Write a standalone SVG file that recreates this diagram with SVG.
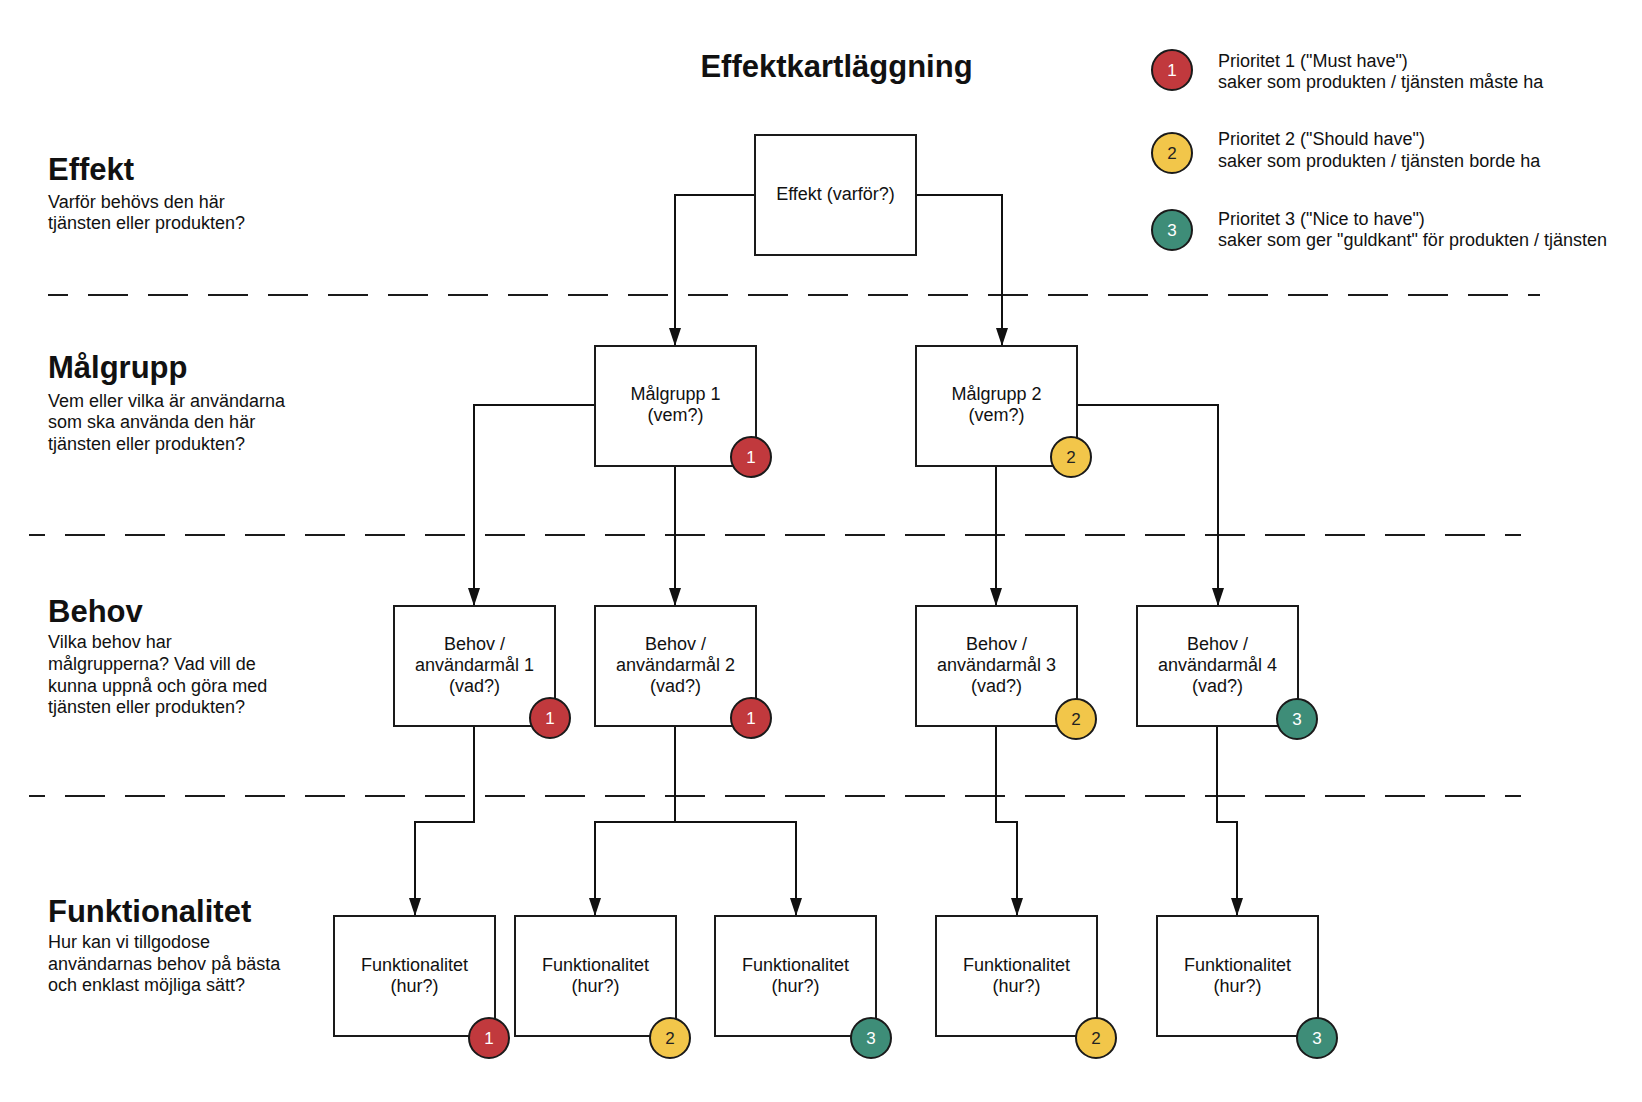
<svg xmlns="http://www.w3.org/2000/svg" width="1642" height="1102" viewBox="0 0 1642 1102">
<style>
text{font-family:"Liberation Sans",Arial,sans-serif;fill:#111}
.title{font-size:31px;font-weight:bold;text-anchor:middle}
.h{font-size:31px;font-weight:bold}
.d{font-size:18px}
.n{font-size:18px;text-anchor:middle}
.box{fill:#fff;stroke:#1a1a1a;stroke-width:2}
.dash{stroke:#1a1a1a;stroke-width:2;stroke-dasharray:40 20;fill:none}
.conn path{fill:none;stroke:#111;stroke-width:2;marker-end:url(#arr)}
.b1{fill:#c1393d;stroke:#1a1a1a;stroke-width:2}
.b2{fill:#f2c64a;stroke:#1a1a1a;stroke-width:2}
.b3{fill:#3e8d78;stroke:#1a1a1a;stroke-width:2}
.bt{font-size:17px;text-anchor:middle;fill:#fff}
.bt2{font-size:17px;text-anchor:middle;fill:#222}
</style>
<defs>
<marker id="arr" markerWidth="18" markerHeight="12" refX="17" refY="6" orient="auto" markerUnits="userSpaceOnUse" viewBox="0 0 18 12">
<path d="M0,0 L18,6 L0,12 Z" fill="#111"/>
</marker>
</defs>
<rect width="1642" height="1102" fill="#fff"/>

<text class="title" x="836.5" y="77">Effektkartläggning</text>

<g id="legend">
<circle class="b1" cx="1172" cy="70" r="20"/><text class="bt" x="1172" y="76">1</text>
<text class="d" x="1218" y="67">Prioritet 1 ("Must have")</text>
<text class="d" x="1218" y="88">saker som produkten / tjänsten måste ha</text>
<circle class="b2" cx="1172" cy="153" r="20"/><text class="bt2" x="1172" y="159">2</text>
<text class="d" x="1218" y="145">Prioritet 2 ("Should have")</text>
<text class="d" x="1218" y="167">saker som produkten / tjänsten borde ha</text>
<circle class="b3" cx="1172" cy="230" r="20"/><text class="bt" x="1172" y="236">3</text>
<text class="d" x="1218" y="225">Prioritet 3 ("Nice to have")</text>
<text class="d" x="1218" y="246">saker som ger "guldkant" för produkten / tjänsten</text>
</g>

<g id="labels">
<text class="h" x="48" y="180">Effekt</text>
<text class="d" x="48" y="208">Varför behövs den här</text>
<text class="d" x="48" y="229">tjänsten eller produkten?</text>
<text class="h" x="48" y="378">Målgrupp</text>
<text class="d" x="48" y="407">Vem eller vilka är användarna</text>
<text class="d" x="48" y="428">som ska använda den här</text>
<text class="d" x="48" y="450">tjänsten eller produkten?</text>
<text class="h" x="48" y="622">Behov</text>
<text class="d" x="48" y="648">Vilka behov har</text>
<text class="d" x="48" y="670">målgrupperna? Vad vill de</text>
<text class="d" x="48" y="692">kunna uppnå och göra med</text>
<text class="d" x="48" y="713">tjänsten eller produkten?</text>
<text class="h" x="48" y="922">Funktionalitet</text>
<text class="d" x="48" y="948">Hur kan vi tillgodose</text>
<text class="d" x="48" y="970">användarnas behov på bästa</text>
<text class="d" x="48" y="991">och enklast möjliga sätt?</text>
</g>

<g id="dividers">
<line class="dash" x1="48" y1="295" x2="1540" y2="295" stroke-dashoffset="20"/>
<line class="dash" x1="29" y1="535" x2="1521" y2="535" stroke-dashoffset="24"/>
<line class="dash" x1="29" y1="796" x2="1521" y2="796" stroke-dashoffset="24"/>
</g>

<g id="connectors" class="conn">
<path d="M755,195 H675 V345"/>
<path d="M916,195 H1002 V345"/>
<path d="M595,405 H474 V605"/>
<path d="M675,466 V605"/>
<path d="M996,466 V605"/>
<path d="M1077,405 H1218 V605"/>
<path d="M474,726 V822 H415 V915"/>
<path d="M675,726 V822 H595 V915"/>
<path d="M675,822 H796 V915"/>
<path d="M996,726 V822 H1017 V915"/>
<path d="M1217,726 V822 H1237 V915"/>
</g>

<g id="effekt">
<rect class="box" x="755" y="135" width="161" height="120"/>
<text class="n" x="835.5" y="200">Effekt (varför?)</text>
</g>

<g id="malgrupp1">
<rect class="box" x="595" y="346" width="161" height="120"/>
<text class="n" x="675.5" y="400">Målgrupp 1</text>
<text class="n" x="675.5" y="421">(vem?)</text>
<circle class="b1" cx="751" cy="457" r="20"/><text class="bt" x="751" y="463">1</text>
</g>

<g id="malgrupp2">
<rect class="box" x="916" y="346" width="161" height="120"/>
<text class="n" x="996.5" y="400">Målgrupp 2</text>
<text class="n" x="996.5" y="421">(vem?)</text>
<circle class="b2" cx="1071" cy="457" r="20"/><text class="bt2" x="1071" y="463">2</text>
</g>

<g id="behov1">
<rect class="box" x="394" y="606" width="161" height="120"/>
<text class="n" x="474.5" y="650">Behov /</text>
<text class="n" x="474.5" y="671">användarmål 1</text>
<text class="n" x="474.5" y="692">(vad?)</text>
<circle class="b1" cx="550" cy="718" r="20"/><text class="bt" x="550" y="724">1</text>
</g>

<g id="behov2">
<rect class="box" x="595" y="606" width="161" height="120"/>
<text class="n" x="675.5" y="650">Behov /</text>
<text class="n" x="675.5" y="671">användarmål 2</text>
<text class="n" x="675.5" y="692">(vad?)</text>
<circle class="b1" cx="751" cy="718" r="20"/><text class="bt" x="751" y="724">1</text>
</g>

<g id="behov3">
<rect class="box" x="916" y="606" width="161" height="120"/>
<text class="n" x="996.5" y="650">Behov /</text>
<text class="n" x="996.5" y="671">användarmål 3</text>
<text class="n" x="996.5" y="692">(vad?)</text>
<circle class="b2" cx="1076" cy="719" r="20"/><text class="bt2" x="1076" y="725">2</text>
</g>

<g id="behov4">
<rect class="box" x="1137" y="606" width="161" height="120"/>
<text class="n" x="1217.5" y="650">Behov /</text>
<text class="n" x="1217.5" y="671">användarmål 4</text>
<text class="n" x="1217.5" y="692">(vad?)</text>
<circle class="b3" cx="1297" cy="719" r="20"/><text class="bt" x="1297" y="725">3</text>
</g>

<g id="funk1">
<rect class="box" x="334" y="916" width="161" height="120"/>
<text class="n" x="414.5" y="971">Funktionalitet</text>
<text class="n" x="414.5" y="992">(hur?)</text>
<circle class="b1" cx="489" cy="1038" r="20"/><text class="bt" x="489" y="1044">1</text>
</g>

<g id="funk2">
<rect class="box" x="515" y="916" width="161" height="120"/>
<text class="n" x="595.5" y="971">Funktionalitet</text>
<text class="n" x="595.5" y="992">(hur?)</text>
<circle class="b2" cx="670" cy="1038" r="20"/><text class="bt2" x="670" y="1044">2</text>
</g>

<g id="funk3">
<rect class="box" x="715" y="916" width="161" height="120"/>
<text class="n" x="795.5" y="971">Funktionalitet</text>
<text class="n" x="795.5" y="992">(hur?)</text>
<circle class="b3" cx="871" cy="1038" r="20"/><text class="bt" x="871" y="1044">3</text>
</g>

<g id="funk4">
<rect class="box" x="936" y="916" width="161" height="120"/>
<text class="n" x="1016.5" y="971">Funktionalitet</text>
<text class="n" x="1016.5" y="992">(hur?)</text>
<circle class="b2" cx="1096" cy="1038" r="20"/><text class="bt2" x="1096" y="1044">2</text>
</g>

<g id="funk5">
<rect class="box" x="1157" y="916" width="161" height="120"/>
<text class="n" x="1237.5" y="971">Funktionalitet</text>
<text class="n" x="1237.5" y="992">(hur?)</text>
<circle class="b3" cx="1317" cy="1038" r="20"/><text class="bt" x="1317" y="1044">3</text>
</g>
</svg>
